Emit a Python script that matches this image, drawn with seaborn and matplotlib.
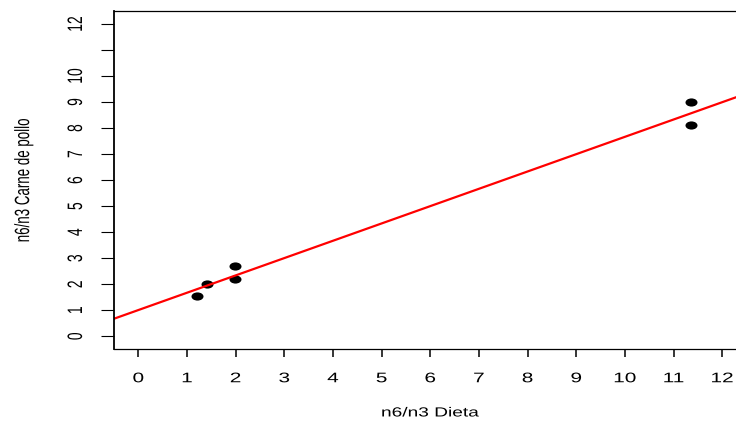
import pandas as pd
import seaborn as sns
import matplotlib.pyplot as plt
from matplotlib.path import Path
from matplotlib.patheffects import AbstractPathEffect
from matplotlib.transforms import Affine2D

# values
dieta = [1.2, 1.42, 1.98, 1.98, 11.36, 11.36]
pollo = [1.55, 2.0, 2.69, 2.19, 9.0, 8.12]
x_ticks = list(range(0, 13))
y_ticks = list(range(0, 13))
y_ticklabels = [str(v) if v != 11 else "" for v in y_ticks]

df = pd.DataFrame({"dieta": dieta, "pollo": pollo})


class Stretch(AbstractPathEffect):
    # the reference image is stretched sideways, so stretch glyphs the same way
    def __init__(self, sx=1.0, sy=1.0):
        super().__init__()
        self.sx, self.sy = sx, sy

    def draw_path(self, renderer, gc, tpath, affine, rgbFace=None):
        ext = tpath.get_extents()
        cx = (ext.x0 + ext.x1) / 2
        t = Affine2D().translate(-cx, 0).scale(self.sx, self.sy).translate(cx, 0)
        renderer.draw_path(gc, tpath, t + affine, rgbFace)


sns.set_style("ticks")
plt.rcParams["font.family"] = ["Liberation Sans", "DejaVu Sans"]

fig = plt.figure(figsize=(7.36, 4.23), dpi=100)
ax = fig.add_axes([114 / 736, 73.7 / 423, 632.5 / 736, 338.3 / 423])
ax.set_xlim(-0.5, 12.5)
ax.set_ylim(-0.5, 12.5)

# points look wider than tall
oval = Path.unit_circle().transformed(Affine2D().scale(1.0, 0.68))

sns.regplot(data=df, x="dieta", y="pollo", ax=ax, ci=None, truncate=False,
            marker=oval,
            scatter_kws={"color": "black", "alpha": 1, "s": 75, "linewidths": 0},
            line_kws={"color": "#ff0000", "lw": 1.6})

ax.set_xlim(-0.5, 12.5)
ax.set_ylim(-0.5, 12.5)
ax.set_xticks(x_ticks)
ax.set_yticks(y_ticks)
ax.set_yticklabels(y_ticklabels)

for s in ax.spines.values():
    s.set_color("black")
    s.set_linewidth(0.9)
ax.spines["left"].set_linewidth(1.3)

ax.tick_params(axis="x", length=5.8, width=1.1, pad=10, labelsize=10, colors="black")
ax.tick_params(axis="y", length=9.4, width=0.8, pad=11.5, labelsize=10, colors="black",
               labelrotation=90)
for lab in ax.get_yticklabels():
    lab.set_va("center")
    lab.set_path_effects([Stretch(sy=1.5)])
for lab in ax.get_xticklabels():
    lab.set_path_effects([Stretch(sx=1.5)])

ax.set_xlabel("n6/n3 Dieta", fontsize=9.5, labelpad=16, color="black",
              path_effects=[Stretch(sx=1.45)])
ax.set_ylabel("n6/n3 Carne de pollo", fontsize=9.6, labelpad=28, color="black",
              path_effects=[Stretch(sy=1.55)])

fig.savefig("out.png", dpi=100)
